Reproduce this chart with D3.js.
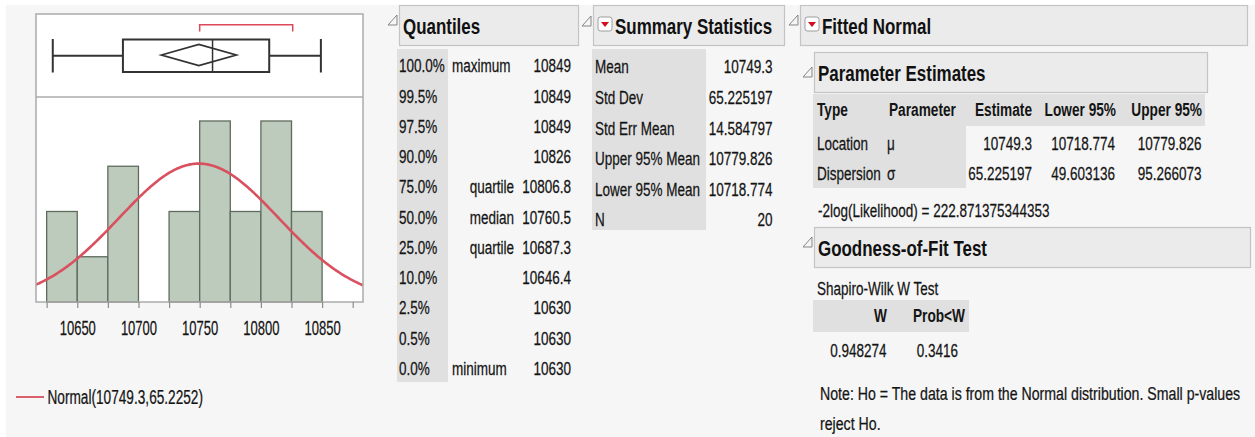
<!DOCTYPE html>
<html><head><meta charset="utf-8">
<script src="https://cdn.jsdelivr.net/npm/d3@7/dist/d3.min.js"></script>
<style>html,body{margin:0;padding:0;background:#fff;}svg{display:block;}</style>
</head><body>
<script>
// ---------------- DATA ----------------
const binStarts = [10625,10650,10675,10700,10725,10750,10775,10800,10825];
const binWidth = 25;
const binCounts = [2,1,3,0,2,4,2,4,2];
const xTickValues = [10650,10700,10750,10800,10850];
const xMinorTicks = [10625,10675,10725,10775,10825,10875];
const xDomain = [10616.3, 10883.4];
const yMaxCount = 4.53;
const boxMin = 10630, boxQ1 = 10687.3, boxMedian = 10760.5, boxQ3 = 10806.8, boxMax = 10849;
const meanValue = 10749.3, sdValue = 65.225197, nValue = 20;
const meanCI = [10718.774, 10779.826];
const shortestHalf = [10750, 10826];
const legendLabel = "Normal(10749.3,65.2252)";

const quantileLevels = ["100.0%","99.5%","97.5%","90.0%","75.0%","50.0%","25.0%","10.0%","2.5%","0.5%","0.0%"];
const quantileNames  = ["maximum","","","","quartile","median","quartile","","","","minimum"];
const quantileValues = ["10849","10849","10849","10826","10806.8","10760.5","10687.3","10646.4","10630","10630","10630"];

const summaryLabels = ["Mean","Std Dev","Std Err Mean","Upper 95% Mean","Lower 95% Mean","N"];
const summaryValues = ["10749.3","65.225197","14.584797","10779.826","10718.774","20"];

const paramHeaders = ["Type","Parameter","Estimate","Lower 95%","Upper 95%"];
const paramTypes = ["Location","Dispersion"];
const paramSymbols = ["μ","σ"];
const paramEstimates = ["10749.3","65.225197"];
const paramLower = ["10718.774","49.603136"];
const paramUpper = ["10779.826","95.266073"];
const likelihoodText = "-2log(Likelihood) = 222.871375344353";

const gofTestName = "Shapiro-Wilk W Test";
const gofHeaders = ["W","Prob<W"];
const gofValues = ["0.948274","0.3416"];
const gofNote = ["Note: Ho = The data is from the Normal distribution. Small p-values","reject Ho."];

// ---------------- DRAW ----------------
const W = 1255, H = 437;
const FONT = "'Liberation Sans', Arial, sans-serif";
const svg = d3.select("body").append("svg").attr("width", W).attr("height", H);

svg.append("rect").attr("x",6).attr("y",5).attr("width",W-6).attr("height",H-5).attr("fill","#f6f6f6");

function T(g, x, y, s, o = {}) {
  return g.append("text")
    .attr("transform", `translate(${x},${y}) scale(${o.sx || 0.73},1)`)
    .attr("text-anchor", o.anchor || "start")
    .attr("dominant-baseline", "central")
    .style("font-family", FONT)
    .style("font-size", (o.size || 18.5) + "px")
    .style("font-weight", o.weight || "normal")
    .attr("fill", o.fill || "#141414")
    .attr("stroke", o.weight === "bold" ? "none" : (o.fill || "#141414"))
    .attr("stroke-width", 0.25)
    .text(s);
}
function tri(x, y) {
  svg.append("path").attr("d", `M${x},${y+10} L${x+9},${y+10} L${x+9},${y} Z`)
    .attr("fill","none").attr("stroke","#858585").attr("stroke-width",1);
}
function redIcon(x, y) {
  svg.append("rect").attr("x",x).attr("y",y).attr("width",14).attr("height",14).attr("rx",2.5)
    .attr("fill","#fff").attr("stroke","#9c9c9c").attr("stroke-width",1);
  svg.append("path").attr("d",`M${x+3},${y+5} L${x+11},${y+5} L${x+7},${y+10} Z`).attr("fill","#d0101c");
}
function header(x0, x1, y0, y1, title, icon) {
  svg.append("rect").attr("x",x0+0.5).attr("y",y0+0.5).attr("width",x1-x0).attr("height",y1-y0)
    .attr("fill","#ebebeb").attr("stroke","#c4c4c4").attr("stroke-width",1.2);
  let tx = x0 + 4;
  if (icon) { redIcon(x0 + 5, (y0+y1)/2 - 8); tx = x0 + 22; }
  T(svg, tx, (y0+y1)/2 + 1, title, {size: 22, weight: "bold", sx: 0.77, fill:"#111"});
}

// ----- Left: distribution plot -----
const fx0 = 36, fx1 = 363, fTop = 14, fDiv = 97, fBot = 302;
const x = d3.scaleLinear().domain(xDomain).range([fx0, fx1]);
const y = d3.scaleLinear().domain([0, yMaxCount]).range([fBot, fDiv]);

svg.append("rect").attr("x",fx0).attr("y",fTop).attr("width",fx1-fx0).attr("height",fBot-fTop).attr("fill","#fff");

// bars
svg.append("g").selectAll("rect").data(binStarts.map((s,i)=>({s, c: binCounts[i]})).filter(d=>d.c>0))
  .join("rect")
  .attr("x", d => x(d.s)).attr("width", d => x(d.s + binWidth) - x(d.s))
  .attr("y", d => y(d.c)).attr("height", d => y(0) - y(d.c))
  .attr("fill","#bccbbb").attr("stroke","#5f6b5f").attr("stroke-width",1.3);

// normal curve
svg.append("clipPath").attr("id","clipH").append("rect")
  .attr("x",fx0).attr("y",fDiv).attr("width",fx1-fx0).attr("height",fBot-fDiv);
const pdf = v => Math.exp(-0.5*Math.pow((v-meanValue)/sdValue,2)) / (sdValue*Math.sqrt(2*Math.PI));
const curvePts = d3.range(xDomain[0], xDomain[1] + 0.5, 1).map(v => [v, nValue*binWidth*pdf(v)]);
svg.append("path").attr("clip-path","url(#clipH)")
  .attr("d", d3.line().x(d=>x(d[0])).y(d=>y(d[1]))(curvePts))
  .attr("fill","none").attr("stroke","#d9505f").attr("stroke-width",2.6);

// frame
svg.append("rect").attr("x",fx0).attr("y",fTop).attr("width",fx1-fx0).attr("height",fBot-fTop)
  .attr("fill","none").attr("stroke","#ababab").attr("stroke-width",1.5);
svg.append("line").attr("x1",fx0).attr("x2",fx1).attr("y1",fDiv).attr("y2",fDiv)
  .attr("stroke","#ababab").attr("stroke-width",1.5);

// axis
const allTicks = xTickValues.concat(xMinorTicks).sort((a,b)=>a-b);
const ax = svg.append("g").attr("transform",`translate(0,${fBot})`)
  .call(d3.axisBottom(x).tickValues(allTicks).tickSize(6).tickFormat(d => xTickValues.includes(d) ? String(d) : ""));
ax.select(".domain").remove();
ax.selectAll(".tick line").attr("stroke","#8c8c8c").attr("stroke-width",1.2);
ax.selectAll(".tick text").attr("y",26).attr("dy",null).attr("dominant-baseline","central")
  .attr("transform","scale(0.62,1)").style("font-family",FONT).style("font-size","21px")
  .attr("fill","#141414").attr("stroke","#141414").attr("stroke-width",0.25);

// boxplot
const bc = 55.7, bTop = 39.5, bBot = 72;
const bx = svg.append("g").attr("stroke","#333").attr("fill","none");
bx.append("line").attr("x1",x(boxMin)).attr("x2",x(boxQ1)).attr("y1",bc).attr("y2",bc).attr("stroke-width",2);
bx.append("line").attr("x1",x(boxQ3)).attr("x2",x(boxMax)).attr("y1",bc).attr("y2",bc).attr("stroke-width",2);
bx.append("line").attr("x1",x(boxMin)).attr("x2",x(boxMin)).attr("y1",bTop-0.5).attr("y2",bBot+0.5).attr("stroke-width",2);
bx.append("line").attr("x1",x(boxMax)).attr("x2",x(boxMax)).attr("y1",bTop-0.5).attr("y2",bBot+0.5).attr("stroke-width",2);
bx.append("rect").attr("x",x(boxQ1)).attr("y",bTop).attr("width",x(boxQ3)-x(boxQ1)).attr("height",bBot-bTop).attr("stroke-width",2);
bx.append("path").attr("d",`M${x(meanCI[0])},55 L${x(meanValue)},44.5 L${x(meanCI[1])},55 L${x(meanValue)},65.5 Z`).attr("stroke-width",1.8);
bx.append("line").attr("x1",x(boxMedian)).attr("x2",x(boxMedian)).attr("y1",bTop).attr("y2",bBot).attr("stroke-width",1.5);
// shortest half bracket
svg.append("path").attr("d",`M${x(shortestHalf[0])},31.5 L${x(shortestHalf[0])},24.8 L${x(shortestHalf[1])},24.8 L${x(shortestHalf[1])},31.5`)
  .attr("fill","none").attr("stroke","#e0475a").attr("stroke-width",1.5);

// legend
svg.append("line").attr("x1",16).attr("x2",44).attr("y1",397).attr("y2",397).attr("stroke","#d9505f").attr("stroke-width",1.8);
T(svg, 47.5, 397, legendLabel, {size: 21, sx: 0.65});

// ----- Quantiles -----
tri(388, 15);
header(399, 578, 5, 45, "Quantiles", false);
svg.append("rect").attr("x",397).attr("y",49).attr("width",51).attr("height",333).attr("fill","#e0e0e0");
quantileLevels.forEach((q,i) => {
  const yy = 65.5 + 30.25*i;
  T(svg, 399, yy, q);
  if (quantileNames[i]) {
    if (quantileNames[i] === "maximum" || quantileNames[i] === "minimum") T(svg, 452, yy, quantileNames[i]);
    else T(svg, 514, yy, quantileNames[i], {anchor:"end"});
  }
  T(svg, 571, yy, quantileValues[i], {anchor:"end"});
});

// ----- Summary Statistics -----
tri(582, 16);
header(593, 784, 5, 45, "Summary Statistics", true);
svg.append("rect").attr("x",592).attr("y",49).attr("width",114).attr("height",181).attr("fill","#e0e0e0");
summaryLabels.forEach((s,i) => {
  const yy = 66.5 + 30.6*i;
  T(svg, 595, yy, s);
  T(svg, 772.5, yy, summaryValues[i], {anchor:"end"});
});

// ----- Fitted Normal -----
tri(789, 15);
header(800, 1247, 5, 45, "Fitted Normal", true);
tri(803, 67);
header(814, 1207, 52, 92, "Parameter Estimates", false);
svg.append("rect").attr("x",813).attr("y",94).attr("width",392).attr("height",32).attr("fill","#e0e0e0");
svg.append("rect").attr("x",813).attr("y",126).attr("width",153).attr("height",62).attr("fill","#e0e0e0");
const hp = {size: 19, weight: "bold", sx: 0.72};
T(svg, 817, 110, paramHeaders[0], hp);
T(svg, 889, 110, paramHeaders[1], hp);
T(svg, 1032, 110, paramHeaders[2], Object.assign({anchor:"end"}, hp));
T(svg, 1116, 110, paramHeaders[3], Object.assign({anchor:"end"}, hp));
T(svg, 1202, 110, paramHeaders[4], Object.assign({anchor:"end"}, hp));
paramTypes.forEach((t,i) => {
  const yy = 143.5 + 30*i;
  T(svg, 817, yy, t);
  T(svg, 887, yy, paramSymbols[i]);
  T(svg, 1032, yy, paramEstimates[i], {anchor:"end"});
  T(svg, 1115, yy, paramLower[i], {anchor:"end"});
  T(svg, 1201.5, yy, paramUpper[i], {anchor:"end"});
});
T(svg, 818, 210, likelihoodText);

// ----- Goodness-of-Fit -----
tri(803, 237);
header(814, 1250, 227, 267, "Goodness-of-Fit Test", false);
T(svg, 817, 288, gofTestName);
svg.append("rect").attr("x",813).attr("y",300).attr("width",156).attr("height",32).attr("fill","#e0e0e0");
T(svg, 887, 316, gofHeaders[0], Object.assign({anchor:"end"}, hp));
T(svg, 965, 316, gofHeaders[1], Object.assign({anchor:"end"}, hp));
T(svg, 886.5, 350, gofValues[0], {anchor:"end"});
T(svg, 958, 350, gofValues[1], {anchor:"end"});
T(svg, 820, 393.5, gofNote[0], {sx: 0.765});
T(svg, 820, 423.5, gofNote[1], {sx: 0.765});
</script>
</body></html>
